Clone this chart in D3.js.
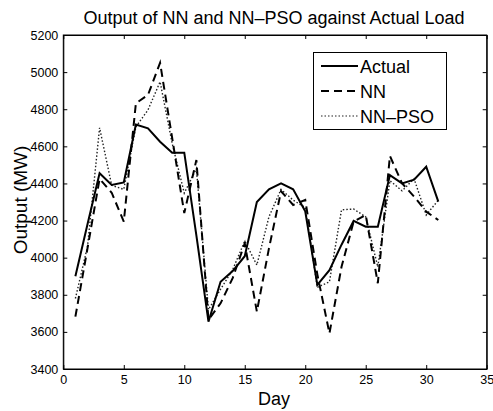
<!DOCTYPE html>
<html>
<head>
<meta charset="utf-8">
<script src="https://cdn.jsdelivr.net/npm/d3@7"></script>
<style>
  html, body { margin: 0; padding: 0; background: #fff; }
  svg { display: block; }
  text { font-family: "Liberation Sans", Arial, Helvetica, sans-serif; fill: #000; }
</style>
</head>
<body>
<svg id="chart" width="493" height="411"></svg>
<script>
// ---- data ----
const days = [1,2,3,4,5,6,7,8,9,10,11,12,13,14,15,16,17,18,19,20,21,22,23,24,25,26,27,28,29,30,31];
const actual = [3900,4180,4455,4392,4405,4718,4697,4625,4566,4566,4120,3655,3870,3928,4008,4300,4368,4400,4368,4250,3853,3933,4070,4198,4167,4167,4445,4400,4420,4490,4302];
const nn     = [3682,4050,4425,4350,4194,4832,4877,5050,4645,4240,4526,3665,3754,3890,4077,3709,4050,4358,4284,4311,3910,3592,3951,4194,4230,3862,4548,4401,4329,4248,4203];
const nnpso  = [3780,4060,4700,4390,4368,4705,4796,4948,4616,4348,4480,3720,3830,3935,4090,3960,4220,4368,4310,4270,3840,3870,4258,4262,4220,3950,4415,4360,4425,4230,4310];
const xTicks = [0,5,10,15,20,25,30,35];
const yTicks = [3400,3600,3800,4000,4200,4400,4600,4800,5000,5200];
const seriesNames = ["Actual","NN","NN\u2013PSO"];

// ---- layout ----
const L = 63.3, R = 486.7, T = 35, B = 369;
const svg = d3.select("#chart");
const x = d3.scaleLinear().domain([0,35]).range([L,R]);
const y = d3.scaleLinear().domain([3400,5200]).range([B,T]);

// frame
svg.append("rect").attr("x",L).attr("y",T).attr("width",R-L).attr("height",B-T)
  .attr("fill","#fff").attr("stroke","#000").attr("stroke-width",1);

// axes (ticks inward)
const tickLen = 4;
const gx = svg.append("g").attr("transform",`translate(0,${B})`)
  .call(d3.axisBottom(x).tickValues(xTicks).tickSizeInner(-tickLen).tickSizeOuter(0).tickPadding(6).tickFormat(d3.format("d")));
const gxt = svg.append("g").attr("transform",`translate(0,${T})`)
  .call(d3.axisTop(x).tickValues(xTicks).tickSizeInner(-tickLen).tickSizeOuter(0).tickFormat(""));
const gy = svg.append("g").attr("transform",`translate(${L},0)`)
  .call(d3.axisLeft(y).tickValues(yTicks).tickSizeInner(-tickLen).tickSizeOuter(0).tickPadding(5).tickFormat(d3.format("d")));
const gyr = svg.append("g").attr("transform",`translate(${R},0)`)
  .call(d3.axisRight(y).tickValues(yTicks).tickSizeInner(-tickLen).tickSizeOuter(0).tickFormat(""));
[gx,gxt,gy,gyr].forEach(g=>{
  g.select(".domain").attr("stroke","#000");
  g.selectAll(".tick line").attr("stroke","#000");
  g.selectAll("text").style("font-size","12.5px").attr("fill","#000")
    .style("font-family",'"Liberation Sans", Arial, sans-serif');
});

// lines
const line = d3.line().x((d,i)=>x(days[i])).y(d=>y(d));
svg.append("path").datum(nnpso).attr("d",line).attr("fill","none")
  .attr("stroke","#222").attr("stroke-width",1.4).attr("stroke-dasharray","1.5,2");
svg.append("path").datum(nn).attr("d",line).attr("fill","none")
  .attr("stroke","#000").attr("stroke-width",2).attr("stroke-dasharray","8,5");
svg.append("path").datum(actual).attr("d",line).attr("fill","none")
  .attr("stroke","#000").attr("stroke-width",2);

// title & labels
svg.append("text").attr("x",274).attr("y",24).attr("text-anchor","middle")
  .style("font-size","18px").text("Output of NN and NN\u2013PSO against Actual Load");
svg.append("text").attr("x",274).attr("y",405).attr("text-anchor","middle")
  .style("font-size","18px").text("Day");
svg.append("text").attr("transform","translate(27,200) rotate(-90)").attr("text-anchor","middle")
  .style("font-size","19px").text("Output (MW)");

// legend
const lg = svg.append("g");
lg.append("rect").attr("x",313.5).attr("y",52.5).attr("width",133).attr("height",77)
  .attr("fill","#fff").attr("stroke","#000").attr("stroke-width",1);
const styles = [
  {w:2, dash:null, c:"#000"},
  {w:2, dash:"8,5", c:"#000"},
  {w:1.2, dash:"1.5,2", c:"#222"}
];
const rowsY = [66, 91, 116];
seriesNames.forEach((n,i)=>{
  const l = lg.append("line").attr("x1",321).attr("x2",358).attr("y1",rowsY[i]).attr("y2",rowsY[i])
    .attr("stroke",styles[i].c).attr("stroke-width",styles[i].w);
  if (styles[i].dash) l.attr("stroke-dasharray",styles[i].dash);
  lg.append("text").attr("x",360).attr("y",rowsY[i]+6.5).style("font-size","18px").text(n);
});
</script>
</body>
</html>
